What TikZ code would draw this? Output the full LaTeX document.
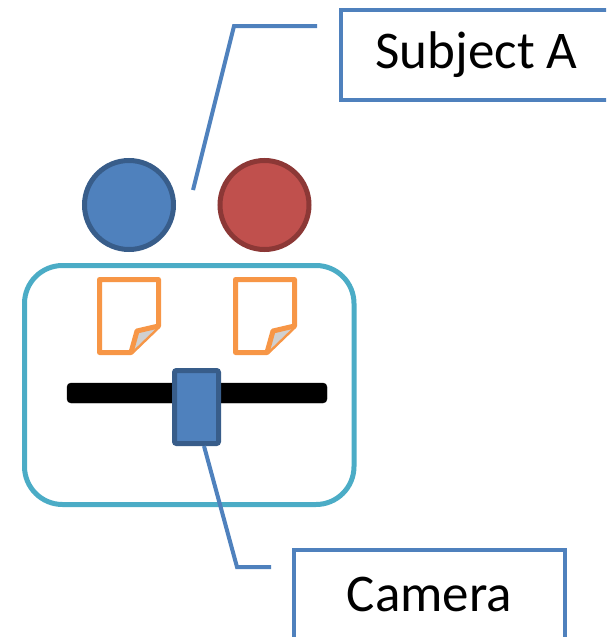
\documentclass[tikz,border=0pt]{standalone}
\usepackage{fontspec}
\setmainfont{Carlito}
\definecolor{leadblue}{HTML}{4F81BD}
\definecolor{darkblue}{HTML}{385D8A}
\definecolor{subjred}{HTML}{C0504D}
\definecolor{darkred}{HTML}{8C3836}
\definecolor{frame}{HTML}{4BACC6}
\definecolor{paper}{HTML}{F79646}
\definecolor{fold}{HTML}{D0D0D0}
\tikzset{
labelbox/.style = {draw = leadblue, line width = 4pt, minimum width = 271pt, minimum height = 90pt, inner sep = 0pt, font = \fontsize{53}{60}\selectfont},
leader/.style = {draw = leadblue, line width = 4pt},
head/.style = {circle, line width = 5pt, minimum size = 89pt, inner sep = 0pt}
}
\begin{document}
\begin{tikzpicture}[x = 1pt, y = -1pt]
\useasboundingbox (0,0) rectangle (606,637);
\clip (0,0) rectangle (606,637);
\draw [draw = frame, line width = 5pt, rounded corners = 38pt] (24.5,265.5) rectangle (354,504.5);
\node[head, fill = leadblue, draw = darkblue] (subja) at (129,205) {};
\node[head, fill = subjred, draw = darkred] (subjb) at (264.5,205) {};
\foreach \dx in {0,136} {
\draw [draw = paper, fill = white, line width = 5pt, line join = round] (99.5+\dx,279.5) -- (158.5+\dx,279.5) -- (158.5+\dx,326) -- (131+\dx,352.5) -- (99.5+\dx,352.5) -- cycle;
\draw [draw = paper, fill = fold, line width = 5pt, line join = round] (158.5+\dx,326) -- (137+\dx,331) -- (131+\dx,352.5);
}
\draw [fill = black, rounded corners = 4pt] (67,383) rectangle (327,403);
\node[draw = darkblue, fill = leadblue, line width = 5pt, minimum width = 44pt, minimum height = 73pt, inner sep = 0pt, rounded corners = 2pt] (camrect) at (196.5,407) {};
\node[labelbox] (subjbox) at (476.5,55) {Subject A};
\node[labelbox] (cambox) at (429.5,594.5) {Camera};
% leader lines
\coordinate (subjtip) at (193,190);
\coordinate (subjend) at (317,26);
\draw [leader] (subjtip) -- (234,26) -- (subjend);
\coordinate (camend) at (271,567);
\draw [leader] ([xshift = 7.5pt]camrect.south) -- (237,567) -- (camend);
\end{tikzpicture}
\end{document}
